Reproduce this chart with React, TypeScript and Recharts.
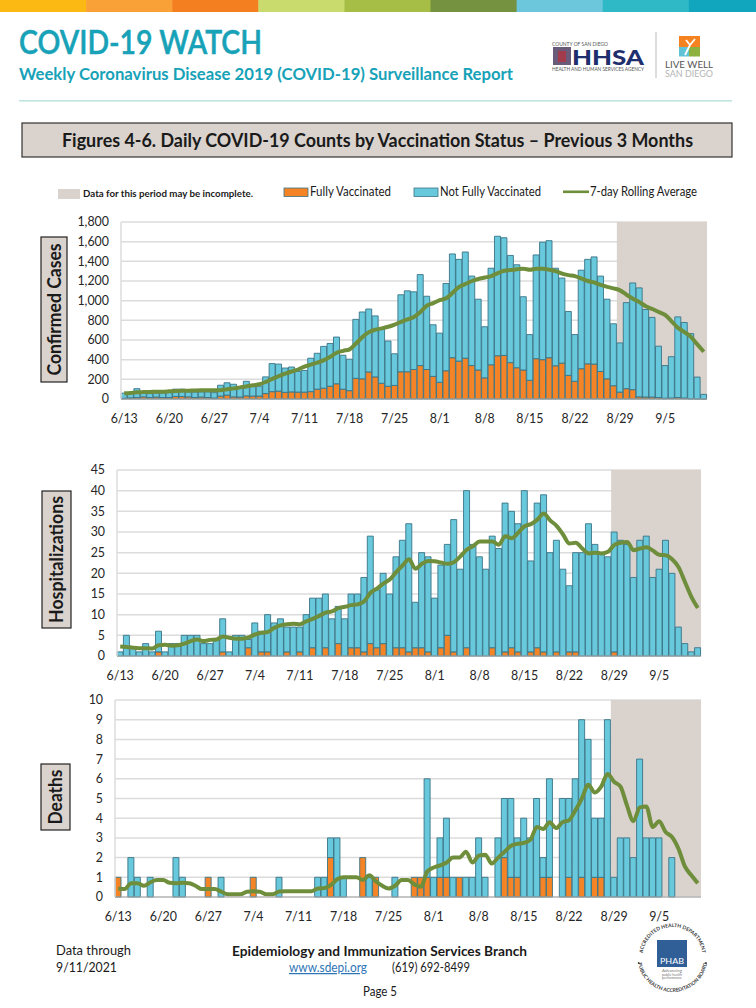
import React from 'react'
import { ComposedChart, Bar, Line, XAxis, YAxis, CartesianGrid, ReferenceArea } from 'recharts'

const dates = [
  '6/13', '6/14', '6/15', '6/16', '6/17', '6/18', '6/19', '6/20', '6/21', '6/22', '6/23', '6/24', '6/25', '6/26',
  '6/27', '6/28', '6/29', '6/30', '7/1', '7/2', '7/3', '7/4', '7/5', '7/6', '7/7', '7/8', '7/9', '7/10',
  '7/11', '7/12', '7/13', '7/14', '7/15', '7/16', '7/17', '7/18', '7/19', '7/20', '7/21', '7/22', '7/23', '7/24',
  '7/25', '7/26', '7/27', '7/28', '7/29', '7/30', '7/31', '8/1', '8/2', '8/3', '8/4', '8/5', '8/6', '8/7',
  '8/8', '8/9', '8/10', '8/11', '8/12', '8/13', '8/14', '8/15', '8/16', '8/17', '8/18', '8/19', '8/20', '8/21',
  '8/22', '8/23', '8/24', '8/25', '8/26', '8/27', '8/28', '8/29', '8/30', '8/31', '9/1', '9/2', '9/3', '9/4',
  '9/5', '9/6', '9/7', '9/8', '9/9', '9/10', '9/11',
]

const casesFully = [
  8, 12, 15, 22, 15, 20, 15, 15, 25, 25,
  22, 15, 20, 15, 10, 30, 40, 22, 20, 32,
  30, 30, 55, 75, 80, 68, 72, 70, 70, 75,
  100, 110, 130, 155, 100, 85, 210, 205, 275, 225,
  160, 130, 138, 277, 277, 300, 340, 300, 230, 170,
  287, 420, 385, 415, 340, 295, 215, 348, 440, 443,
  370, 318, 295, 190, 410, 400, 420, 338, 365, 240,
  180, 308, 358, 355, 280, 205, 135, 70, 105, 95,
  22, 20, 20, 15, 8, 10, 15, 10, 3, 2, 1,
]
const casesNotFully = [
  52, 53, 90, 48, 40, 40, 45, 50, 75, 75,
  50, 55, 52, 57, 55, 110, 125, 128, 100, 148,
  110, 100, 170, 285, 275, 247, 253, 210, 220, 340,
  365, 425, 435, 475, 345, 320, 600, 680, 640, 620,
  550, 460, 322, 783, 823, 790, 925, 745, 525, 500,
  888, 1055, 1035, 1080, 910, 720, 520, 982, 1215, 1197,
  1090, 1047, 745, 465, 1055, 1195, 1190, 992, 865, 650,
  475, 1002, 1062, 1090, 970, 810, 630, 500, 875, 1085,
  1108, 890, 810, 522, 332, 420, 820, 768, 662, 221, 46,
]
const casesAvg = [
  58, 62, 68, 70, 72, 73, 74, 78, 82, 84,
  85, 87, 88, 89, 88, 90, 100, 108, 118, 128,
  140, 150, 175, 205, 232, 258, 280, 300, 330, 350,
  370, 395, 430, 470, 490, 505, 565, 630, 680, 705,
  718, 735, 757, 785, 810, 835, 885, 950, 975, 1005,
  1025, 1080, 1140, 1170, 1200, 1220, 1235, 1250, 1280, 1305,
  1312, 1320, 1325, 1315, 1325, 1325, 1315, 1300, 1275, 1260,
  1250, 1225, 1200, 1185, 1160, 1140, 1125, 1105, 1060, 1020,
  985, 943, 915, 885, 855, 790, 723, 680, 632, 555, 480,
]

const hospFully = [
  0, 0, 0, 0, 0, 0, 1, 0, 0, 0,
  0, 0, 0, 0, 0, 0, 1, 0, 0, 0,
  2, 0, 1, 1, 0, 0, 1, 0, 1, 0,
  2, 0, 2, 0, 3, 0, 2, 2, 1, 3,
  2, 3, 0, 2, 2, 1, 2, 2, 1, 0,
  2, 5, 1, 0, 2, 0, 0, 0, 2, 0,
  1, 2, 1, 0, 1, 2, 1, 0, 1, 0,
  1, 1, 0, 0, 0, 0, 0, 1, 0, 0,
  0, 0, 0, 0, 0, 0, 0, 0, 0, 0, 0,
]
const hospNotFully = [
  1, 5, 2, 1, 3, 1, 5, 1, 3, 3,
  5, 5, 5, 3, 3, 4, 8, 1, 5, 5,
  2, 8, 5, 9, 8, 9, 6, 7, 6, 10,
  12, 14, 13, 9, 9, 9, 13, 13, 18, 26,
  14, 17, 15, 22, 26, 31, 11, 23, 23, 14,
  20, 22, 32, 21, 38, 27, 24, 21, 27, 26,
  36, 33, 31, 40, 22, 35, 38, 25, 27, 21,
  16, 24, 25, 32, 27, 25, 24, 29, 28, 27,
  19, 28, 29, 19, 21, 28, 20, 7, 3, 1, 2,
]
const hospAvg = [
  2.3, 2.2, 2, 1.9, 1.9, 1.8, 2.6, 2.7, 2.5, 2.6,
  3, 3.6, 4, 3.6, 3.9, 4, 4.7, 4.4, 4.2, 4.2,
  4.5, 5.2, 5.6, 5.8, 6.8, 7.4, 7.7, 7.8, 7.7, 8.4,
  9, 9.7, 10.5, 10.8, 11.6, 11.9, 12.3, 12.5, 13.2, 15.3,
  16.3, 17.5, 18.5, 20.3, 21.9, 23.4, 21.1, 22.3, 23, 22.9,
  22.6, 22.3, 22.7, 24.1, 25.7, 26.6, 27.7, 27.7, 27.7, 26.9,
  29, 28.5, 29.8, 31.4, 31.9, 33, 34.5, 32.8, 31.5, 29.4,
  27.2, 27.4, 26, 24.8, 25, 24.8, 25.2, 26.9, 27.4, 27.6,
  25.6, 26, 26.3, 25.5, 24.5, 24.4, 23.4, 21.5, 17.9, 14.3, 11.6,
]

const deathsFully = [
  1, 0, 0, 0, 0, 0, 0, 0, 0, 0,
  0, 0, 0, 0, 1, 0, 0, 0, 0, 0,
  0, 1, 0, 0, 0, 0, 0, 0, 0, 0,
  0, 0, 0, 2, 0, 0, 0, 0, 2, 0,
  1, 0, 0, 0, 0, 0, 1, 1, 1, 0,
  1, 1, 0, 1, 0, 0, 0, 0, 0, 0,
  2, 1, 1, 0, 0, 0, 1, 1, 0, 0,
  1, 0, 1, 0, 1, 1, 0, 0, 0, 0,
  0, 0, 0, 0, 0, 0, 0, 0, 0, 0, 0,
]
const deathsNotFully = [
  0, 0, 2, 1, 0, 1, 0, 0, 0, 2,
  1, 0, 0, 0, 0, 0, 1, 0, 0, 0,
  0, 0, 0, 0, 0, 1, 0, 0, 0, 0,
  0, 1, 1, 1, 3, 1, 0, 0, 0, 1,
  0, 0, 0, 1, 0, 0, 0, 0, 5, 1,
  2, 3, 1, 0, 1, 1, 3, 1, 0, 3,
  3, 4, 2, 4, 3, 5, 1, 5, 0, 5,
  4, 6, 8, 8, 3, 3, 9, 1, 3, 3,
  2, 7, 3, 3, 3, 0, 2, 0, 0, 0, 0,
]
const deathsAvg = [
  0.43, 0.4, 0.7, 0.7, 0.57, 0.75, 0.86, 0.86, 0.72, 0.7,
  0.72, 0.7, 0.57, 0.4, 0.4, 0.4, 0.27, 0.14, 0.14, 0.14,
  0.27, 0.29, 0.27, 0.14, 0.14, 0.28, 0.29, 0.29, 0.29, 0.29,
  0.29, 0.43, 0.45, 0.6, 0.9, 1, 1, 1, 0.86, 1.1,
  0.8, 0.57, 0.43, 0.57, 0.86, 0.86, 0.64, 0.52, 1.3, 1.5,
  1.6, 1.75, 2, 2, 2.3, 1.75, 2.1, 2.15, 1.7, 2,
  2.3, 2.6, 2.7, 2.75, 2.9, 3.55, 3.45, 3.8, 3.5, 3.8,
  3.9, 4.4, 5, 5.7, 5.3, 5.6, 6.25, 5.85, 5.6, 4.65,
  3.85, 4.55, 4.6, 3.55, 3.85, 3.3, 3.05, 2.45, 1.55, 1.1, 0.7,
]

const casesTicks = [0, 200, 400, 600, 800, 1000, 1200, 1400, 1600, 1800]
const hospTicks = [0, 5, 10, 15, 20, 25, 30, 35, 40, 45]
const deathsTicks = [0, 1, 2, 3, 4, 5, 6, 7, 8, 9, 10]

const headerStrip = ['#FDB913', '#F9A036', '#F47F20', '#C9DB6C', '#A6BE45', '#74923F', '#6CC6DC', '#2FB9C6', '#12A5BE']

const FONT = 'Lato, sans-serif'
const ORANGE = '#F58426'
const BLUE = '#68C8DC'
const EDGE = '#3A7486'
const GREEN = '#6F8E3B'
const SHADE = '#D9D2CD'
const TEAL = '#17A2B8'

const buildRows = (fully: number[], notFully: number[], avg: number[]) =>
  dates.map((date, i) => ({ date, fully: fully[i], notFully: notFully[i], avg: avg[i] }))

interface PanelProps {
  rows: { date: string; fully: number; notFully: number; avg: number }[]
  ticks: number[]
  top: number
  height: number
  plotLeft: number
  plotRight: number
  plotTop: number
  plotBottom: number
  thousands?: boolean
}

const Panel: React.FC<PanelProps> = ({ rows, ticks, top, height, plotLeft, plotRight, plotTop, plotBottom, thousands }) => {
  const axisW = 50
  const tickStyle = { fontFamily: FONT, fontSize: 12.4, fill: '#262626' }
  return (
    <div style={{ position: 'absolute', left: 0, top }}>
      <ComposedChart
        width={756}
        height={height}
        data={rows}
        barCategoryGap={0}
        margin={{ left: plotLeft - axisW, right: 756 - plotRight, top: plotTop - top, bottom: 0 }}
      >
        <CartesianGrid vertical={false} stroke="#DCDCDC" strokeWidth={1.5} />
        <ReferenceArea x1="8/29" x2="9/11" fill={SHADE} fillOpacity={1} stroke="none" />
        <XAxis
          dataKey="date"
          interval={6}
          height={top + height - plotBottom}
          tickLine={false}
          tickMargin={9}
          axisLine={{ stroke: '#A8A8A8', strokeWidth: 1.2 }}
          tick={tickStyle}
        />
        <YAxis
          width={axisW}
          domain={[ticks[0], ticks[ticks.length - 1]]}
          ticks={ticks}
          interval={0}
          tickLine={false}
          tickMargin={6}
          axisLine={{ stroke: '#DCDCDC', strokeWidth: 1.5 }}
          tick={tickStyle}
          tickFormatter={(v: number) => (thousands ? v.toLocaleString('en-US') : String(v))}
        />
        <Bar dataKey="fully" stackId="a" fill={ORANGE} stroke={EDGE} strokeWidth={0.9} isAnimationActive={false} />
        <Bar dataKey="notFully" stackId="a" fill={BLUE} stroke={EDGE} strokeWidth={0.9} isAnimationActive={false} />
        <Line dataKey="avg" type="monotone" stroke={GREEN} strokeWidth={4} dot={false} isAnimationActive={false} />
      </ComposedChart>
    </div>
  )
}

// fixed-width text so the Calibri-like widths of the page line up
const T: React.FC<any> = ({ x, y, w, size, fill = '#1a1a1a', bold, anchor, children, ...rest }) => (
  <text
    x={x}
    y={y}
    fontFamily={FONT}
    fontSize={size}
    fontWeight={bold ? 700 : 400}
    fill={fill}
    textAnchor={anchor}
    textLength={w}
    lengthAdjust="spacingAndGlyphs"
    {...rest}
  >
    {children}
  </text>
)

const SideLabel: React.FC<{ x: number; y: number; w: number; h: number; text: string; textW: number }> = ({ x, y, w, h, text, textW }) => (
  <g>
    <rect x={x} y={y} width={w} height={h} fill={SHADE} stroke="#222" strokeWidth={1.2} />
    <g transform={`translate(${x + w / 2 + 6.5},${y + h / 2}) rotate(-90)`}>
      <text
        textAnchor="middle"
        fontFamily={FONT}
        fontWeight={700}
        fontSize={18}
        fill="#1a1a1a"
        textLength={textW}
        lengthAdjust="spacingAndGlyphs"
      >
        {text}
      </text>
    </g>
  </g>
)

const PageFurniture: React.FC = () => (
  <svg width={756} height={1008} style={{ position: 'absolute', left: 0, top: 0 }}>
    {headerStrip.map((c, i) => (
      <rect key={c} x={i * 86.1} y={0} width={i === 8 ? 70 : 86.6} height={12} fill={c} />
    ))}
    <T x={19} y={54} w={243} size={33} fill={TEAL} fontWeight={600} stroke={TEAL} strokeWidth={0.5}>COVID-19 WATCH</T>
    <T x={19} y={80} w={494} size={17.5} bold fill={TEAL}>Weekly Coronavirus Disease 2019 (COVID-19) Surveillance Report</T>

    <T x={552} y={46} w={56} size={5.4} fill="#555">COUNTY OF SAN DIEGO</T>
    <rect x={553} y={47} width={18} height={18} fill="#6B5B7B" />
    <rect x={558} y={51} width={8} height={11} fill="#A23B4C" />
    <T x={572} y={65} w={72} size={21} fontWeight={900} fill="#1F2F6E">HHSA</T>
    <T x={552} y={70.5} w={92} size={4.8} fill="#555">HEALTH AND HUMAN SERVICES AGENCY</T>
    <rect x={655.5} y={32} width={1} height={46} fill="#BBBBBB" />
    <rect x={679} y={36} width={21} height={11} fill="#F58220" />
    <rect x={679} y={47} width={10} height={9.5} fill="#5FC3D8" />
    <rect x={689} y={47} width={11} height={9.5} fill="#8DB03F" />
    <path d="M 685 55 L 690 45 L 695 39 M 690 45 L 686 40" stroke="#fff" strokeWidth={1.8} fill="none" />
    <T x={665} y={68} w={48} size={8.6} fill="#555">LIVE WELL</T>
    <T x={665} y={77} w={48} size={8.6} fill="#B5B5B5">SAN DIEGO</T>

    <rect x={19} y={100} width={713} height={1.6} fill="#BFE5E0" />

    <rect x={22} y={123} width={710} height={34} fill={SHADE} stroke="#333" strokeWidth={1.2} />
    <T x={62} y={146.5} w={631} size={18} bold>Figures 4-6. Daily COVID-19 Counts by Vaccination Status – Previous 3 Months</T>

    <rect x={58} y={189} width={22} height={10} fill={SHADE} />
    <T x={83} y={197} w={170} size={9.5} bold>Data for this period may be incomplete.</T>
    <rect x={284} y={188} width={24} height={8.5} fill={ORANGE} stroke={EDGE} strokeWidth={0.8} />
    <T x={310} y={196} w={81} size={12.4}>Fully Vaccinated</T>
    <rect x={414} y={188} width={24} height={8.5} fill={BLUE} stroke={EDGE} strokeWidth={0.8} />
    <T x={440} y={196} w={101} size={12.4}>Not Fully Vaccinated</T>
    <rect x={563} y={190.5} width={26} height={2.6} fill={GREEN} />
    <T x={590} y={196} w={107} size={12.4}>7-day Rolling Average</T>

    <SideLabel x={41} y={237} w={26} h={145} text="Confirmed Cases" textW={132} />
    <SideLabel x={42} y={491} w={29} h={137} text="Hospitalizations" textW={127} />
    <SideLabel x={41} y={764} w={29} h={66} text="Deaths" textW={55} />

    <T x={56} y={955} w={75} size={13.5}>Data through</T>
    <T x={56} y={972} w={61} size={13.5}>9/11/2021</T>
    <T x={232} y={956} w={295} size={14} bold>Epidemiology and Immunization Services Branch</T>
    <T x={289} y={972} w={78} size={12.4} fill="#2E75B6" textDecoration="underline">www.sdepi.org</T>
    <T x={392} y={972} w={78} size={12.4}>(619) 692-8499</T>
    <T x={363} y={995.5} w={34} size={12.4}>Page 5</T>

    <defs>
      <path id="sealTop" d="M 642.5 957 A 30 30 0 0 1 702.5 957" />
      <path id="sealBottom" d="M 637.5 957 A 35 35 0 0 0 707.5 957" />
    </defs>
    <text fontFamily={FONT} fontSize={5} fontWeight={700} fill="#3A3A3A">
      <textPath href="#sealTop" startOffset="50%" textAnchor="middle">ACCREDITED HEALTH DEPARTMENT</textPath>
    </text>
    <text fontFamily={FONT} fontSize={5} fontWeight={700} fill="#3A3A3A">
      <textPath href="#sealBottom" startOffset="50%" textAnchor="middle">PUBLIC HEALTH ACCREDITATION BOARD</textPath>
    </text>
    <circle cx={638.7} cy={963} r={0.9} fill="#3A3A3A" />
    <circle cx={706} cy={963} r={0.9} fill="#3A3A3A" />
    <rect x={657} y={940} width={30} height={27} fill="#2F5F96" />
    <T x={660} y={964} w={24} size={7.5} fill="#fff">PHAB</T>
    <T x={662} y={972} w={20} size={3.2} fill="#777">Advancing</T>
    <T x={662} y={975.6} w={20} size={3.2} fill="#777">public health</T>
    <T x={662} y={979.2} w={20} size={3.2} fill="#777">performance</T>
  </svg>
)

export default function App() {
  return (
    <div style={{ position: 'absolute', left: 0, top: 0, width: 756, height: 1008, background: '#fff', overflow: 'hidden' }}>
      <PageFurniture />
      <Panel
        rows={buildRows(casesFully, casesNotFully, casesAvg)}
        ticks={casesTicks}
        top={205}
        height={225}
        plotLeft={121}
        plotRight={707}
        plotTop={222}
        plotBottom={399}
        thousands
      />
      <Panel
        rows={buildRows(hospFully, hospNotFully, hospAvg)}
        ticks={hospTicks}
        top={455}
        height={230}
        plotLeft={117}
        plotRight={701}
        plotTop={470}
        plotBottom={656}
      />
      <Panel
        rows={buildRows(deathsFully, deathsNotFully, deathsAvg)}
        ticks={deathsTicks}
        top={690}
        height={235}
        plotLeft={115}
        plotRight={701}
        plotTop={700}
        plotBottom={897}
      />
    </div>
  )
}
